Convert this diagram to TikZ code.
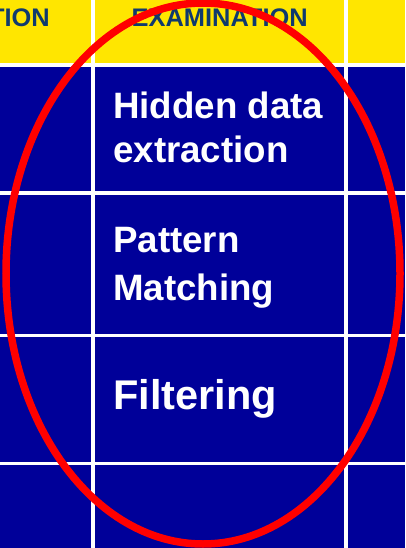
\documentclass[tikz,border=0pt]{standalone}
\usepackage{fontspec}
\setmainfont{Liberation Sans}
\definecolor{tblue}{RGB}{0,0,153}
\definecolor{tyellow}{RGB}{255,230,0}
\definecolor{hdtext}{RGB}{16,58,110}
\definecolor{ringred}{RGB}{255,0,0}
\begin{document}
\begin{tikzpicture}[x=1pt,y=-1pt,
  cell/.style={anchor=base west,inner sep=0pt,text=white,font=\fontsize{36.7}{40}\selectfont\bfseries},
  bigcell/.style={cell,font=\fontsize{41.5}{45}\selectfont\bfseries},
  head/.style={anchor=base,inner sep=0pt,text=hdtext,font=\fontsize{25.4}{28}\selectfont\bfseries},
  gridline/.style={draw=white,line width=3.3pt},
  vline/.style={draw=white,line width=4pt}]
\useasboundingbox (0,0) rectangle (405,548);
\clip (0,0) rectangle (405,548);
\fill[tblue] (0,0) rectangle (405,548);
\fill[tyellow] (0,0) rectangle (405,65);
\draw[gridline] (0,65) -- (405,65);
\draw[gridline] (0,193) -- (405,193);
\draw[gridline] (0,335.4) -- (405,335.4);
\draw[gridline] (0,463.5) -- (405,463.5);
\draw[vline] (92.8,0) -- (92.8,548);
\draw[vline] (346.3,0) -- (346.3,548);
\node[head,anchor=base east] (h1) at (50,27) {TION};
\node[head] (h2) at (219.7,27) {EXAMINATION};
\node[cell] (c1) at (113,119) {Hidden data};
\node[cell] (c2) at (113,162) {extraction};
\node[cell] (c3) at (113,252) {Pattern};
\node[cell] (c4) at (113,300) {Matching};
\node[bigcell] (c5) at (113,409) {Filtering};
\draw[ringred,line width=7.5pt] (203,273.5) ellipse [x radius=197, y radius=270.5];
\end{tikzpicture}
\end{document}
